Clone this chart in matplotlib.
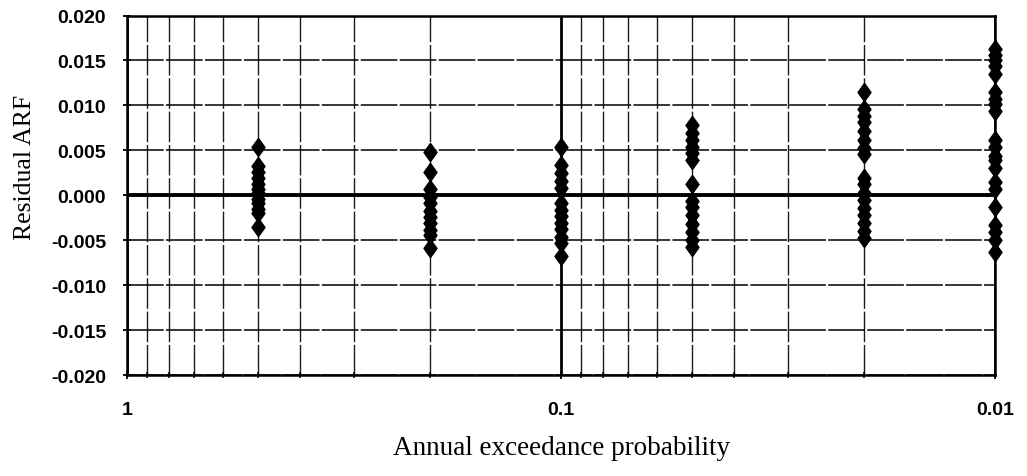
import numpy as np
import matplotlib
matplotlib.use("Agg")
import matplotlib.pyplot as plt
from matplotlib.ticker import FixedLocator, FixedFormatter, LogLocator, NullFormatter

# residual ARF for each annual exceedance probability
aep = [0.5, 0.2, 0.1, 0.05, 0.02, 0.01]
res_05 = [0.0054, 0.0033, 0.0026, 0.0019, 0.0013, 0.0007, 0.0002, -0.0004,
          -0.0009, -0.0015, -0.0020, -0.0035]
res_02 = [0.0048, 0.0026, 0.0007, -0.0002, -0.0009, -0.0017, -0.0024,
          -0.0031, -0.0039, -0.0044, -0.0059]
res_01 = [0.0054, 0.0034, 0.0025, 0.0016, 0.0008, -0.0009, -0.0016, -0.0023,
          -0.0031, -0.0038, -0.0046, -0.0053, -0.0068]
res_005 = [0.0078, 0.0069, 0.0062, 0.0054, 0.0047, 0.0039, 0.0013, -0.0006,
           -0.0013, -0.0022, -0.0032, -0.0041, -0.0050, -0.0058]
res_002 = [0.0115, 0.0096, 0.0088, 0.0081, 0.0072, 0.0062, 0.0053, 0.0046,
           0.0019, 0.0012, 0.0003, -0.0005, -0.0014, -0.0022, -0.0031,
           -0.0040, -0.0048]
res_001 = [0.0163, 0.0156, 0.0150, 0.0144, 0.0135, 0.0115, 0.0107, 0.0102,
           0.0094, 0.0061, 0.0054, 0.0044, 0.0039, 0.0030, 0.0015, 0.0007,
           -0.0013, -0.0033, -0.0041, -0.0050, -0.0063]
residuals = [res_05, res_02, res_01, res_005, res_002, res_001]

yticks = [-0.02, -0.015, -0.01, -0.005, 0.0, 0.005, 0.01, 0.015, 0.02]
ytick_labels = ['-0.020', '-0.015', '-0.010', '-0.005', '0.000',
                '0.005', '0.010', '0.015', '0.020']
xticks = [1, 0.1, 0.01]
xtick_labels = ['1', '0.1', '0.01']

diamond = [(0, 1), (0.72, 0), (0, -1), (-0.72, 0), (0, 1)]

fig = plt.figure(figsize=(10.27, 4.77), dpi=100)
ax = fig.add_axes([0.1237, 0.2117, 0.8453, 0.7537])

ax.set_xscale('log')
ax.set_xlim(1, 0.01)
ax.set_ylim(-0.02, 0.02)

ax.xaxis.set_major_locator(FixedLocator(xticks))
ax.xaxis.set_major_formatter(FixedFormatter(xtick_labels))
ax.xaxis.set_minor_locator(LogLocator(base=10, subs=np.arange(2, 10)))
ax.xaxis.set_minor_formatter(NullFormatter())
ax.yaxis.set_major_locator(FixedLocator(yticks))
ax.yaxis.set_major_formatter(FixedFormatter(ytick_labels))

ax.grid(True, which='major', axis='x', color='black', lw=2.0)
ax.grid(True, which='minor', axis='x', color='#1a1a1a', lw=1.0, ls=(0, (22, 2)))
ax.grid(True, which='major', axis='y', color='black', lw=1.1, ls=(0, (24, 1.5)))
ax.axhline(0, color='black', lw=2.8, zorder=2)
ax.set_axisbelow(True)

for p, vals in zip(aep, residuals):
    ax.plot([p] * len(vals), vals, ls='none', marker=diamond, ms=13,
            color='black', zorder=3, clip_on=False)

for s in ax.spines.values():
    s.set_linewidth(1.8)

ax.tick_params(axis='both', which='major', direction='inout', length=6,
               width=1.3, labelsize=14)
ax.tick_params(axis='x', which='minor', direction='inout', length=5, width=1.1)
ax.tick_params(axis='x', which='major', pad=16)
ax.tick_params(axis='y', which='major', pad=12)
for lab in ax.get_xticklabels() + ax.get_yticklabels():
    lab.set_fontfamily('Liberation Sans')
    lab.set_fontweight('bold')

ax.set_ylabel('Residual ARF', fontfamily='Liberation Serif', fontsize=18.5)
ax.yaxis.set_label_coords(-0.105, 0.579)
ax.set_xlabel('Annual exceedance probability', fontfamily='Liberation Serif',
              fontsize=19.5, labelpad=12)

fig.savefig('out.png', dpi=100)
